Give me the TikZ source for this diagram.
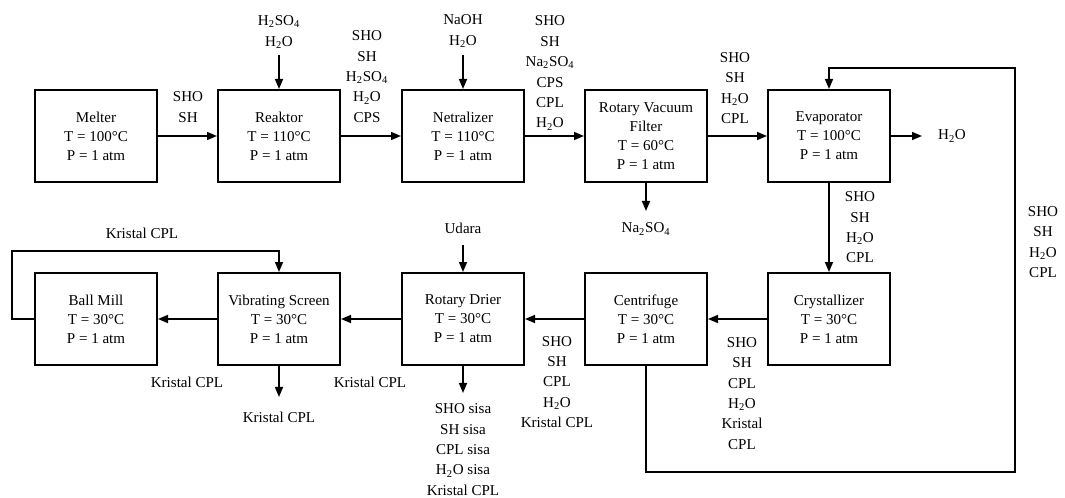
\documentclass[tikz,border=0pt]{standalone}
\usepackage{fontspec}
\setmainfont{Liberation Serif}
\usetikzlibrary{arrows.meta}

\begin{document}
\begin{tikzpicture}[x=0.025cm,y=-0.025cm,line width=1.1pt,>={Triangle[length=2.5mm,width=2mm]},
  unit/.style={draw,line width=1.4pt,minimum width=3.05cm,minimum height=2.3cm,align=center,
    font=\fontsize{10.7}{13.5}\selectfont},
  flow/.style={align=center,inner sep=1pt,font=\fontsize{10.7}{14.5}\selectfont}]
  \useasboundingbox (0,0) rectangle (1065,498);
  % baris atas
  \node[unit] (melter) at (96,136) {Melter\\T = 100°C\\P = 1 atm};
  \node[unit] (reaktor) at (279,136) {Reaktor\\T = 110°C\\P = 1 atm};
  \node[unit] (netral) at (463,136) {Netralizer\\T = 110°C\\P = 1 atm};
  \node[unit] (rvf) at (646,136) {Rotary Vacuum\\Filter\\T = 60°C\\P = 1 atm};
  \node[unit] (evap) at (829,136) {Evaporator\\T = 100°C\\P = 1 atm};
  % baris bawah
  \node[unit] (ball) at (96,319) {Ball Mill\\T = 30°C\\P = 1 atm};
  \node[unit] (vib) at (279,319) {Vibrating Screen\\T = 30°C\\P = 1 atm};
  \node[unit] (drier) at (463,319) {Rotary Drier\\T = 30°C\\P = 1 atm};
  \node[unit] (centri) at (646,319) {Centrifuge\\T = 30°C\\P = 1 atm};
  \node[unit] (cryst) at (829,319) {Crystallizer\\T = 30°C\\P = 1 atm};

  % aliran masuk / keluar
  \coordinate (inR) at (279,55);
  \coordinate (inN) at (463,55);
  \coordinate (outE) at (922,136);
  \coordinate (outF) at (646,211);
  \coordinate (inD) at (463,245);
  \coordinate (outD) at (463,393);
  \coordinate (outV) at (279,397);
  \coordinate (r1) at (1015,472);            % recycle centrifuge
  \coordinate (r2) at (1015,68);
  \coordinate (b1) at (12,251);              % recycle ball mill

  \node[flow] (sR) at (279,32) {H\textsubscript{2}SO\textsubscript{4}\\H\textsubscript{2}O};
  \node[flow] (sN) at (463,31) {NaOH\\H\textsubscript{2}O};
  \node[flow] (sMR) at (188,107) {SHO\\SH};
  \node[flow] (sRN) at (367,76.5) {SHO\\SH\\H\textsubscript{2}SO\textsubscript{4}\\H\textsubscript{2}O\\CPS};
  \node[flow] (sNF) at (550,73) {SHO\\SH\\Na\textsubscript{2}SO\textsubscript{4}\\CPS\\CPL\\H\textsubscript{2}O};
  \node[flow] (sFE) at (735,88) {SHO\\SH\\H\textsubscript{2}O\\CPL};
  \node[flow] (sE) at (952,136) {H\textsubscript{2}O};
  \node[flow] (sF) at (646,229) {Na\textsubscript{2}SO\textsubscript{4}};
  \node[flow] (sEC) at (860,227.5) {SHO\\SH\\H\textsubscript{2}O\\CPL};
  \node[flow] (sRec) at (1043,242) {SHO\\SH\\H\textsubscript{2}O\\CPL};
  \node[flow] (sCC) at (742,393.5) {SHO\\SH\\CPL\\H\textsubscript{2}O\\Kristal\\CPL};
  \node[flow] (sCD) at (557,382) {SHO\\SH\\CPL\\H\textsubscript{2}O\\Kristal CPL};
  \node[flow] (sU) at (463,228) {Udara};
  \node[flow] (sD) at (463,449.5) {SHO sisa\\SH sisa\\CPL sisa\\H\textsubscript{2}O sisa\\Kristal CPL};
  \node[flow] (sDV) at (370,382) {Kristal CPL};
  \node[flow] (sVB) at (187,382) {Kristal CPL};
  \node[flow] (sV) at (279,417) {Kristal CPL};
  \node[flow] (sB) at (142,233) {Kristal CPL};

  % panah
  \draw[->] (melter) -- (reaktor);
  \draw[->] (reaktor) -- (netral);
  \draw[->] (netral) -- (rvf);
  \draw[->] (rvf) -- (evap);
  \draw[->] (inR) -- (reaktor);
  \draw[->] (inN) -- (netral);
  \draw[->] (evap) -- (outE);
  \draw[->] (rvf) -- (outF);
  \draw[->] (evap) -- (cryst);
  \draw[->] (cryst) -- (centri);
  \draw[->] (centri) -- (drier);
  \draw[->] (drier) -- (vib);
  \draw[->] (vib) -- (ball);
  \draw[->] (inD) -- (drier);
  \draw[->] (drier) -- (outD);
  \draw[->] (vib) -- (outV);
  \draw[->] (centri.south) |- (r1) -- (r2) -| (evap.north);
  \draw[->] (ball.west) -| (b1) -| (vib.north);
\end{tikzpicture}
\end{document}
